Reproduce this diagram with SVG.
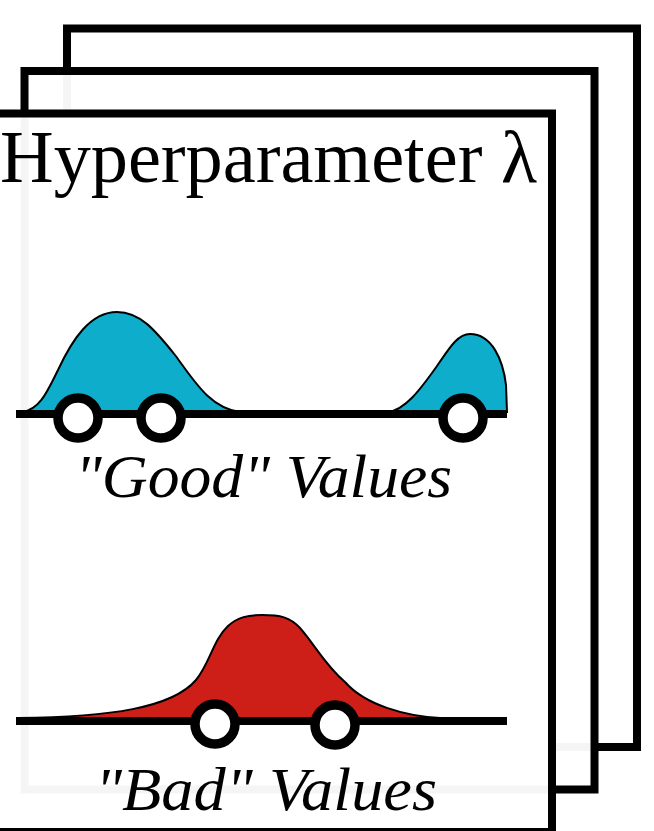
<svg xmlns="http://www.w3.org/2000/svg" width="654" height="831" viewBox="0 0 654 831">
  <style>
    .card { fill: #ffffff; fill-opacity: 0.96; stroke: #000; stroke-width: 8; }
    .axis { stroke: #000; stroke-width: 8; fill: none; }
    .dot { fill: #fff; stroke: #000; stroke-width: 9.5; }
    .good { fill: #0eadcc; stroke: #000; stroke-width: 2; }
    .bad { fill: #cd1f17; stroke: #000; stroke-width: 2; }
    .title { font-family: "Liberation Serif", "DejaVu Serif", serif; font-size: 74px; fill: #000; }
    .label { font-family: "Liberation Serif", "DejaVu Serif", serif; font-style: italic; font-size: 62px; fill: #000; }
  </style>
  <rect width="654" height="831" fill="#fff"/>
  <g id="card-back"><rect class="card" x="67" y="28.5" width="570" height="718.5"/></g>
  <g id="card-middle"><rect class="card" x="24.5" y="71" width="570" height="718.5"/></g>
  <g id="card-front">
    <rect class="card" x="-18" y="113.5" width="570" height="718.5"/>
    <text class="title" x="0" y="182" textLength="537" lengthAdjust="spacingAndGlyphs">Hyperparameter λ</text>
  </g>
  <g id="good-values">
    <path class="good" d="M 22,412 C 40,410 48,390 58,370 C 72,340 90,312 117,312 C 140,312 155,330 175,355 C 195,382 210,408 240,412 Z"/>
    <path class="good" d="M 388,412 C 405,410 420,390 437,366 C 450,347 458,334 470,334 C 492,334 503,360 506,385 L 507,412 Z"/>
    <line class="axis" x1="16" y1="414" x2="507" y2="414"/>
    <circle class="dot" cx="78" cy="418" r="20"/>
    <circle class="dot" cx="161" cy="418" r="20"/>
    <circle class="dot" cx="463" cy="418" r="20"/>
    <text class="label" x="75" y="497" textLength="377" lengthAdjust="spacingAndGlyphs">"Good"  Values</text>
  </g>
  <g id="bad-values">
    <path class="bad" d="M 18,718 C 110,717 172,708 196,680 C 210,663 213,640 228,626 C 238,617 248,615 262,615 C 280,615 290,617 300,628 C 315,645 325,665 345,682 C 365,705 405,716 440,718 Z"/>
    <line class="axis" x1="16" y1="721" x2="507" y2="721"/>
    <circle class="dot" cx="215" cy="724" r="20"/>
    <circle class="dot" cx="335" cy="725" r="20"/>
    <text class="label" x="95" y="810" textLength="342" lengthAdjust="spacingAndGlyphs">"Bad"  Values</text>
  </g>
</svg>
